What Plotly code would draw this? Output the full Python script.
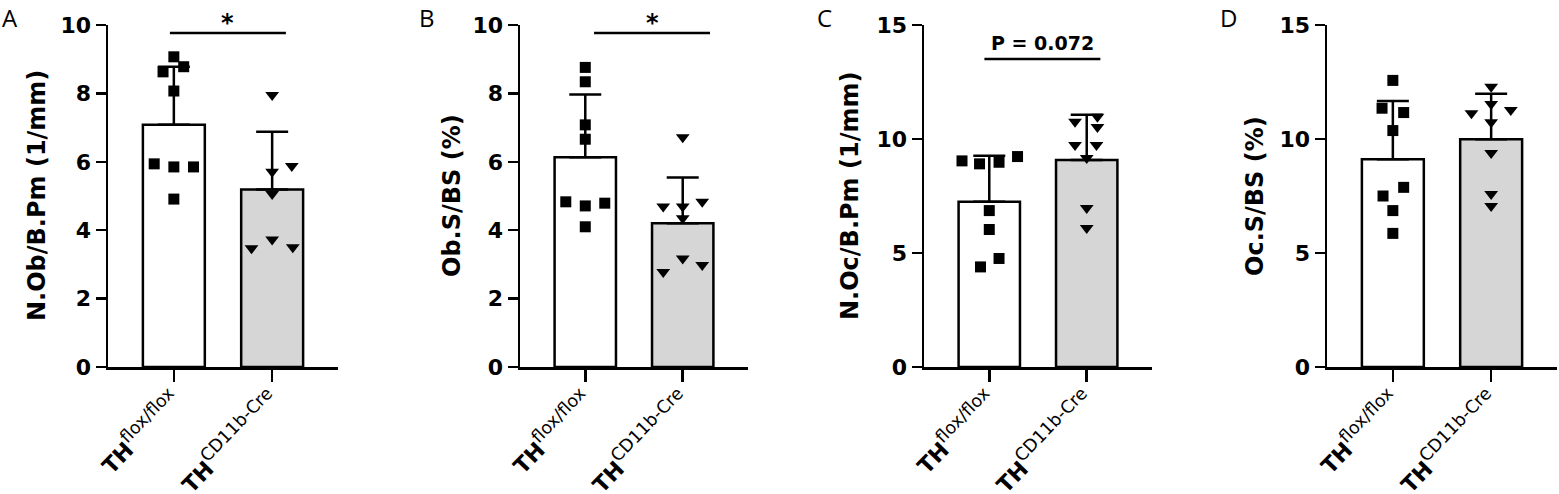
import plotly.graph_objects as go
from plotly.subplots import make_subplots

# ---------------- data ----------------
tick_base = ["TH", "TH"]
tick_sup = ["flox/flox", "CD11b-Cre"]

panel_letters = ["A", "B", "C", "D"]
y_titles = ["N.Ob/B.Pm (1/mm)", "Ob.S/BS (%)", "N.Oc/B.Pm (1/mm)", "Oc.S/BS (%)"]
y_max = [10, 10, 15, 15]
y_step = [2, 2, 5, 5]
sig_text = ["*", "*", "P = 0.072", None]

# panel A
A_means = [7.08, 5.19]
A_sd = [1.70, 1.69]
A_flox = [9.07, 8.63, 8.78, 8.07, 5.94, 5.85, 5.85, 4.91]
A_flox_jitter = [0, -0.11, 0.10, 0, -0.20, 0, 0.20, 0]
A_cre = [7.95, 5.88, 5.71, 5.06, 3.73, 3.47, 3.50]
A_cre_jitter = [0, 0.20, 0, 0, 0, -0.21, 0.21]

# panel B
B_means = [6.13, 4.20]
B_sd = [1.84, 1.34]
B_flox = [8.76, 8.34, 7.08, 6.66, 4.83, 4.71, 4.79, 4.10]
B_flox_jitter = [0, 0, 0, 0, -0.20, 0, 0.20, 0]
B_cre = [6.72, 4.69, 4.69, 4.83, 4.35, 3.17, 2.78, 2.98]
B_cre_jitter = [0, -0.20, 0, 0.20, 0, 0, -0.20, 0.20]

# panel C
C_means = [7.25, 9.08]
C_sd = [2.01, 1.98]
C_flox = [9.04, 8.91, 8.98, 9.23, 6.86, 6.03, 4.76, 4.39]
C_flox_jitter = [-0.28, -0.10, 0.10, 0.29, 0, 0, 0.10, -0.09]
C_cre = [10.76, 10.98, 10.53, 9.74, 9.74, 9.17, 6.97, 6.10]
C_cre_jitter = [-0.12, 0.11, 0.11, -0.12, 0.10, 0, 0, 0]

# panel D
D_means = [9.11, 9.99]
D_sd = [2.56, 1.99]
D_flox = [12.57, 11.35, 11.16, 10.37, 7.50, 7.88, 6.86, 5.86]
D_flox_jitter = [0, -0.11, 0.11, 0, -0.10, 0.11, 0, 0]
D_cre = [12.29, 11.54, 11.13, 11.27, 10.73, 9.39, 7.59, 7.06]
D_cre_jitter = [0, 0, -0.20, 0.20, 0, 0, 0, 0]

panels = [
    (A_means, A_sd, A_flox, A_flox_jitter, A_cre, A_cre_jitter),
    (B_means, B_sd, B_flox, B_flox_jitter, B_cre, B_cre_jitter),
    (C_means, C_sd, C_flox, C_flox_jitter, C_cre, C_cre_jitter),
    (D_means, D_sd, D_flox, D_flox_jitter, D_cre, D_cre_jitter),
]

# ---------------- layout constants ----------------
W, H = 1559, 494
FONT = "DejaVu Sans"
x_px = [(108, 338), (520, 748), (924, 1152), (1327, 1557)]
y_px = (25, 367)  # top, bottom of plot area
title_x_px = [37, 452, 850, 1255]
letter_x_px = [10, 427, 825, 1228]
bracket_x = [(-0.04, 1.14), (0.09, 1.28), (-0.05, 1.14), None]
bracket_y_px = [33, 33, 59, None]

bar_fill = ["white", "#d6d6d6"]
LW = 2.5

fig = make_subplots(rows=1, cols=4)

ticktext = [
    "<span style='font-size:22px'><b>%s</b></span><sup>%s</sup>" % (b, s)
    for b, s in zip(tick_base, tick_sup)
]

for i, (means, sd, flox, fj, cre, cj) in enumerate(panels):
    col = i + 1
    fig.add_trace(go.Bar(
        x=[0, 1], y=means, width=0.63,
        marker=dict(color=bar_fill, line=dict(color="black", width=LW)),
        error_y=dict(type="data", array=sd, arrayminus=[0, 0], symmetric=False,
                     color="black", thickness=LW, width=16),
        showlegend=False, hoverinfo="skip",
    ), row=1, col=col)
    fig.add_trace(go.Scatter(
        x=[0 + d for d in fj], y=flox, mode="markers",
        marker=dict(symbol="square", size=11, color="black"),
        showlegend=False, cliponaxis=False,
    ), row=1, col=col)
    fig.add_trace(go.Scatter(
        x=[1 + d for d in cj], y=cre, mode="markers",
        marker=dict(symbol="triangle-down", size=12, color="black"),
        showlegend=False, cliponaxis=False,
    ), row=1, col=col)

    xa = "xaxis" if i == 0 else "xaxis%d" % col
    ya = "yaxis" if i == 0 else "yaxis%d" % col
    x0, x1 = x_px[i]
    fig.layout[xa].update(
        domain=[x0 / W, x1 / W], range=[-0.67, 1.67], automargin=False,
        showline=True, linewidth=LW, linecolor="black",
        ticks="outside", ticklen=12, tickwidth=LW, tickcolor="black",
        tickvals=[0, 1], ticktext=ticktext, tickangle=-46,
        ticklabelstandoff=-6,
        tickfont=dict(family=FONT, size=25, color="black"),
        showgrid=False, zeroline=False, fixedrange=True,
    )
    fig.layout[ya].update(
        domain=[1 - y_px[1] / H, 1 - y_px[0] / H], range=[0, y_max[i]],
        dtick=y_step[i], tick0=0, automargin=False,
        showline=True, linewidth=LW, linecolor="black",
        ticks="outside", ticklen=10, tickwidth=LW, tickcolor="black",
        tickfont=dict(family=FONT, size=22, color="black", weight="bold"),
        showgrid=False, zeroline=False, fixedrange=True,
    )

    # y-axis title
    fig.add_annotation(
        x=title_x_px[i] / W, y=1 - (sum(y_px) / 2) / H, xref="paper", yref="paper",
        text=y_titles[i], textangle=-90, showarrow=False,
        font=dict(family=FONT, size=24, color="black", weight="bold"),
        xanchor="center", yanchor="middle",
    )
    # panel letter
    fig.add_annotation(
        x=letter_x_px[i] / W, y=1 - 17 / H, xref="paper", yref="paper",
        text=panel_letters[i], showarrow=False,
        font=dict(family="Open Sans", size=24, color="black"),
        xanchor="center", yanchor="middle",
    )
    # significance bracket
    if sig_text[i] is not None:
        xr = "x" if i == 0 else "x%d" % col
        yr = "y" if i == 0 else "y%d" % col
        per_px = y_max[i] / (y_px[1] - y_px[0])
        by = (y_px[1] - bracket_y_px[i]) * per_px
        bx0, bx1 = bracket_x[i]
        fig.add_shape(type="line", xref=xr, yref=yr, x0=bx0, x1=bx1, y0=by, y1=by,
                      line=dict(color="black", width=LW))
        is_star = sig_text[i] == "*"
        fig.add_annotation(
            x=(bx0 + bx1) / 2, y=by, xref=xr, yref=yr, text=sig_text[i],
            showarrow=False, xanchor="center", yanchor="bottom",
            yshift=-6 if is_star else 3,
            font=dict(family=FONT, size=24 if is_star else 19, color="black", weight="bold"),
        )

fig.update_layout(
    width=W, height=H, margin=dict(l=0, r=0, t=0, b=0, autoexpand=False),
    plot_bgcolor="white", paper_bgcolor="white",
    font=dict(family=FONT, color="black"),
    bargap=0,
)

fig.write_html(
    "out.html",
    config={"displayModeBar": False, "staticPlot": True},
    post_script="document.body.style.margin='0';document.body.style.overflow='hidden';",
)
